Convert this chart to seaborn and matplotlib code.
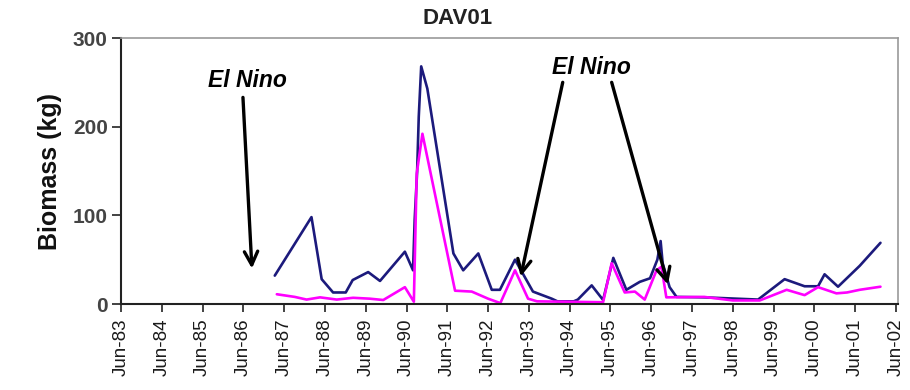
import matplotlib
matplotlib.use("Agg")
import matplotlib.pyplot as plt
import seaborn as sns
import numpy as np
import pandas as pd

# years since Jun-83 (tick positions at Jun of each year)
tick_labels = ["Jun-83", "Jun-84", "Jun-85", "Jun-86", "Jun-87", "Jun-88", "Jun-89",
               "Jun-90", "Jun-91", "Jun-92", "Jun-93", "Jun-94", "Jun-95", "Jun-96",
               "Jun-97", "Jun-98", "Jun-99", "Jun-00", "Jun-01", "Jun-02"]

blue_t = [3.77, 4.67, 4.92, 5.2, 5.51, 5.68, 6.06, 6.35, 6.96, 7.16, 7.2, 7.26, 7.3,
          7.36, 7.51, 8.15, 8.39, 8.76, 9.09, 9.29, 9.66, 10.1, 10.56, 10.7, 11.1,
          11.2, 11.54, 11.82, 12.07, 12.39, 12.72, 12.97, 13.15, 13.23, 13.28, 13.45,
          13.62, 14.3, 15.62, 16.27, 16.76, 17.09, 17.25, 17.58, 18.11, 18.62]
blue_v = [32, 98, 28, 13, 13, 27, 36, 26, 59, 38, 95, 149, 211,
          268, 243, 57, 38, 57, 16, 16, 50, 14, 6, 3, 3,
          5, 21, 4.5, 52, 16, 25, 29, 50, 71, 46, 19,
          8, 7.5, 5, 28, 20, 20, 33.5, 19.5, 43, 69]

pink_t = [3.82, 4.26, 4.55, 4.88, 5.29, 5.69, 6.1, 6.43, 6.96, 7.18, 7.25, 7.39,
          8.19, 8.6, 9.0, 9.3, 9.66, 9.98, 10.2, 11.82, 12.03, 12.35, 12.6, 12.84,
          13.13, 13.25, 13.37, 14.3, 15.0, 15.66, 16.32, 16.76, 17.09, 17.54, 17.8,
          18.11, 18.62]
pink_v = [11, 8, 5, 7.5, 5, 7, 6, 4.5, 19, 2.6, 147, 192,
          15, 14, 6, 1, 38, 6, 3, 2, 46, 13, 14, 5,
          38, 42, 7.5, 8, 4, 4, 16, 10, 19, 12, 13,
          16, 19.5]

sns.set_style("white")
plt.rcParams['font.family'] = ['Liberation Sans', 'DejaVu Sans']

fig = plt.figure(figsize=(9.1, 3.9), dpi=100)
ax = fig.add_axes([121/910, 1-304/390, (898-121)/910, (304-38)/390])

df_b = pd.DataFrame({"t": blue_t, "v": blue_v})
df_p = pd.DataFrame({"t": pink_t, "v": pink_v})
sns.lineplot(data=df_b, x="t", y="v", ax=ax, color="#1c1a7c", lw=1.9, sort=False)
sns.lineplot(data=df_p, x="t", y="v", ax=ax, color="#ff00ff", lw=1.9, sort=False)

ax.set_xlim(0, 19.05)
ax.set_ylim(0, 300)
ax.set_xticks(np.arange(len(tick_labels)))
ax.set_xticklabels(tick_labels, rotation=90, fontsize=13.5, color="#1a1a1a")
ax.set_yticks([0, 100, 200, 300])
ax.set_yticklabels(["0", "100", "200", "300"], fontsize=15, fontweight="bold", color="#444444")
ax.tick_params(axis="x", direction="out", length=5.5, width=1.2, color="#222222",
               bottom=True, pad=5)
ax.tick_params(axis="y", direction="out", length=6.5, width=1.2, color="#222222",
               left=True, pad=3)
ax.set_xlabel("")
ax.set_ylabel("Biomass (kg)", fontsize=18, fontweight="bold", labelpad=8, color="#111111")

for s in ["left", "bottom"]:
    ax.spines[s].set_color("#222222")
    ax.spines[s].set_linewidth(1.5)
for s in ["top", "right"]:
    ax.spines[s].set_color("#999999")
    ax.spines[s].set_linewidth(1.2)

fig.text(458/910, 1-18/390, "DAV01", ha="center", va="center", fontsize=16,
         fontweight="bold", color="#222222")

txt = dict(ha="center", va="center", fontsize=16.5, fontweight="bold",
           fontstyle="italic", color="black")
ax.text(3.09, 252, "El Nino", **txt)
ax.text(11.54, 267, "El Nino", **txt)

arr = dict(arrowstyle="->", lw=2.4, color="black", mutation_scale=24,
           shrinkA=0, shrinkB=0)
ax.annotate("", xy=(3.21, 40), xytext=(2.99, 233), arrowprops=arr)
ax.annotate("", xy=(9.80, 31), xytext=(10.83, 250), arrowprops=arr)
ax.annotate("", xy=(13.41, 22), xytext=(12.03, 250), arrowprops=arr)

fig.savefig("out.png", dpi=100)
